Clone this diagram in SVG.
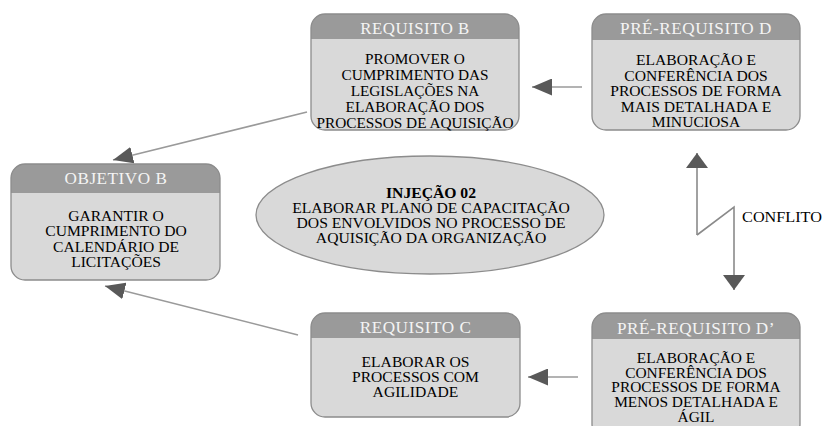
<svg xmlns="http://www.w3.org/2000/svg" width="822" height="426" viewBox="0 0 822 426">
<style>
text{font-family:"Liberation Serif","Times New Roman",serif;text-anchor:middle}
.body{fill:#d9d9d9;stroke:none}
.hdr{fill:#9a9a9a;stroke:none}
.outline{fill:none;stroke:#8c8c8c;stroke-width:1.3}
.ht{font-size:16.5px;fill:#f4f4f4;letter-spacing:0.5px}
.bt{font-size:15px;fill:#000}
.et{font-size:14.5px;fill:#000}
.pt{font-size:14px;fill:#000}
.con{fill:none;stroke:#9a9a9a;stroke-width:1.5}
.zig{fill:none;stroke:#8a8a8a;stroke-width:1.6}
</style>
<defs>
<marker id="ah" markerUnits="userSpaceOnUse" viewBox="0 0 20 17" markerWidth="20" markerHeight="17" refX="20" refY="8.5" orient="auto">
<path d="M0,0 L20,8.5 L0,17 Z" fill="#595959"/>
</marker>
<marker id="ahc" markerUnits="userSpaceOnUse" viewBox="0 0 15 22" markerWidth="15" markerHeight="22" refX="15" refY="11" orient="auto">
<path d="M0,0 L15,11 L0,22 Z" fill="#595959"/>
</marker>
</defs>

<g id="connectors">
<path class="con" d="M307,112 L113,160" marker-end="url(#ah)"/>
<path class="con" d="M582,87 L532,87" marker-end="url(#ah)"/>
<path class="con" d="M298,335 L105,286" marker-end="url(#ah)"/>
<path class="con" d="M578,377 L528,377" marker-end="url(#ah)"/>
<path class="zig" d="M697,235 L697,153" marker-end="url(#ahc)"/>
<path class="zig" d="M697,235 L734,207 L734,290" marker-end="url(#ahc)"/>
<g transform="translate(782 0) scale(1.08 1)"><text class="bt" x="0" y="222.5" font-size="14px">CONFLITO</text></g>
</g>

<g id="objetivo-b">
<rect class="body" x="11" y="164" width="209" height="116" rx="14"/>
<path class="hdr" d="M11,193 V178 A14,14 0 0 1 25,164 H206 A14,14 0 0 1 220,178 V193 Z"/>
<rect class="outline" x="11" y="164" width="209" height="116" rx="14"/>
<g transform="translate(116 0) scale(1.04 1)">
<text class="ht" x="0" y="184.5">OBJETIVO B</text>
<text class="bt" x="0" y="221">GARANTIR O</text>
<text class="bt" x="0" y="236.5">CUMPRIMENTO DO</text>
<text class="bt" x="0" y="252">CALENDÁRIO DE</text>
<text class="bt" x="0" y="267.5">LICITAÇÕES</text>
</g>
</g>

<g id="requisito-b">
<rect class="body" x="311" y="14" width="208" height="116" rx="14"/>
<path class="hdr" d="M311,39 V28 A14,14 0 0 1 325,14 H505 A14,14 0 0 1 519,28 V39 Z"/>
<rect class="outline" x="311" y="14" width="208" height="116" rx="14"/>
<g transform="translate(415 0) scale(1.02 1)">
<text class="ht" x="0" y="34.5">REQUISITO B</text>
<text class="bt" x="0" y="64.5">PROMOVER O</text>
<text class="bt" x="0" y="80.5">CUMPRIMENTO DAS</text>
<text class="bt" x="0" y="96.5">LEGISLAÇÕES NA</text>
<text class="bt" x="0" y="112.5">ELABORAÇÃO DOS</text>
<text class="bt" x="0" y="128.5">PROCESSOS DE AQUISIÇÃO</text>
</g>
</g>

<g id="pre-requisito-d">
<rect class="body" x="592" y="14" width="208" height="116" rx="14"/>
<path class="hdr" d="M592,40 V28 A14,14 0 0 1 606,14 H786 A14,14 0 0 1 800,28 V40 Z"/>
<rect class="outline" x="592" y="14" width="208" height="116" rx="14"/>
<g transform="translate(696 0) scale(1.04 1)">
<text class="ht" x="0" y="34.5">PRÉ-REQUISITO D</text>
<text class="bt" x="0" y="65">ELABORAÇÃO E</text>
<text class="bt" x="0" y="81">CONFERÊNCIA DOS</text>
<text class="bt" x="0" y="96.5">PROCESSOS DE FORMA</text>
<text class="bt" x="0" y="112">MAIS DETALHADA E</text>
<text class="bt" x="0" y="127.5">MINUCIOSA</text>
</g>
</g>

<g id="injecao-02">
<ellipse cx="430" cy="215" rx="174" ry="59" fill="#d9d9d9" stroke="#8c8c8c" stroke-width="1.3"/>
<g transform="translate(431 0) scale(1.08 1)">
<text class="et" x="0" y="198.5" font-weight="bold">INJEÇÃO 02</text>
<text class="et" x="0" y="213.5">ELABORAR PLANO DE CAPACITAÇÃO</text>
<text class="et" x="0" y="228.5">DOS ENVOLVIDOS NO PROCESSO DE</text>
<text class="et" x="0" y="243.5">AQUISIÇÃO DA ORGANIZAÇÃO</text>
</g>
</g>

<g id="requisito-c">
<rect class="body" x="311" y="313" width="209" height="104" rx="14"/>
<path class="hdr" d="M311,338 V327 A14,14 0 0 1 325,313 H506 A14,14 0 0 1 520,327 V338 Z"/>
<rect class="outline" x="311" y="313" width="209" height="104" rx="14"/>
<g transform="translate(415.5 0) scale(1.04 1)">
<text class="ht" x="0" y="333.5">REQUISITO C</text>
<text class="bt" x="0" y="367">ELABORAR OS</text>
<text class="bt" x="0" y="382">PROCESSOS COM</text>
<text class="bt" x="0" y="397">AGILIDADE</text>
</g>
</g>

<g id="pre-requisito-d-linha">
<rect class="body" x="592" y="313" width="208" height="125" rx="14"/>
<path class="hdr" d="M592,339 V327 A14,14 0 0 1 606,313 H786 A14,14 0 0 1 800,327 V339 Z"/>
<rect class="outline" x="592" y="313" width="208" height="125" rx="14"/>
<g transform="translate(696 0) scale(1.1 1)">
<text class="ht" x="0" y="334" transform="scale(0.945 1)">PRÉ-REQUISITO D’</text>
<text class="pt" x="0" y="363.5">ELABORAÇÃO E</text>
<text class="pt" x="0" y="378">CONFERÊNCIA DOS</text>
<text class="pt" x="0" y="392.5">PROCESSOS DE FORMA</text>
<text class="pt" x="0" y="407">MENOS DETALHADA E</text>
<text class="pt" x="0" y="422">ÁGIL</text>
</g>
</g>
</svg>
